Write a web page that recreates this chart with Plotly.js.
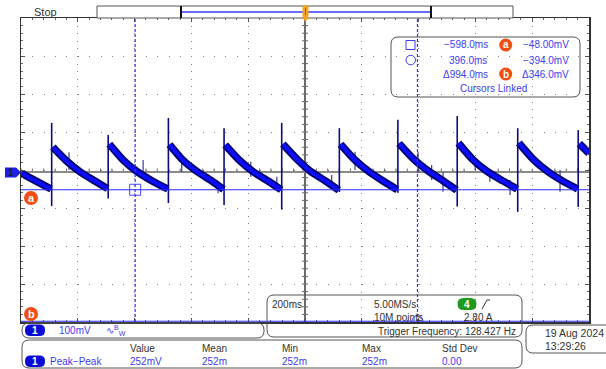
<!DOCTYPE html>
<html><head><meta charset="utf-8">
<script src="https://cdn.plot.ly/plotly-3.0.1.min.js"></script>
<style>html,body{margin:0;padding:0;background:#fff;}#chart{width:606px;height:369px;}</style>
</head><body><div id="chart"></div>
<script>
// ---- data (time in ms, voltage in mV) ----
const rampT = [-1000,-950,-894,null,
  -888,-840,-790,-740,-695,null,
  -689,-640,-590,-535,-483,null,
  -477,-430,-380,-330,-287,null,
  -281,-230,-180,-130,-84,null,
  -78,-25,20,70,119,null,
  125,175,225,275,325,null,
  331,385,435,485,534,null,
  540,590,640,695,747,null,
  753,805,855,905,960,null,
  966,1000];
const rampV = [-4,-24,-46,null,
  64,28,-2,-25,-45,null,
  72,30,-1,-26,-46,null,
  71,30,0,-24,-47,null,
  70,29,-2,-25,-48,null,
  72,30,0,-24,-49,null,
  72,31,0,-25,-48,null,
  74,31,1,-24,-49,null,
  75,32,1,-24,-46,null,
  75,31,0,-24,-46,null,
  73,48];
const edgeT   = [-892,-693,-481,-285,-82,121,327,536,749,962];
const spikeHi = [128,96,141,114,128,114,136,146,114,109];
const spikeLo = [-91,-71,-83,-88,-100,-54,-56,-92,-106,-93];
const glitchT  = [-831,-570,-434,-306,-191,-99,94,176,398,446,486,599,651,722,898];
const glitchHi = [51,30,30,-36,26,-14,-9,52,52,17,-1,26,-1,-22,4];
const glitchLo = [4,-14,-1,-57,-14,-43,-43,4,-4,-22,-53,4,-27,-62,-53];
const cursorT = [-598, 396];
const cursorV = [-48, -394];
const measLabels = ['Value','Mean','Min','Max','Std Dev'];
const measValues = ['252mV','252m','252m','252m','0.00'];

// ---- layout helpers (pixel -> paper) ----
const L=21,R=589,T=18,B=322;
const px = x => (x-L)/(R-L);
const py = y => (B-y)/(B-T);
function rr(x0,y0,x1,y1,r){
  const a=px(x0),b=px(x1),c=py(y0),d=py(y1),rx=r/(R-L),ry=r/(B-T);
  return `M${a+rx},${c} L${b-rx},${c} Q${b},${c} ${b},${c-ry} L${b},${d+ry} Q${b},${d} ${b-rx},${d} L${a+rx},${d} Q${a},${d} ${a},${d+ry} L${a},${c-ry} Q${a},${c} ${a+rx},${c} Z`;
}
function poly(pts){return 'M'+pts.map(p=>px(p[0])+','+py(p[1])).join(' L')+' Z';}
const FONT='Liberation Sans, Arial, sans-serif';
const BLUE='#3c3cf5', DARK='#333333', ORANGE='#f24d12';
const shapes=[], anns=[];
function ann(x,y,text,opt={}){
  anns.push({xref:'paper',yref:'paper',x:px(x),y:py(y),text:text,showarrow:false,
    xanchor:opt.xa||'left',yanchor:'middle',
    font:{family:FONT,size:opt.size||10,color:opt.color||DARK}});
}
function box(x0,y0,x1,y1,r,fill,stroke){
  shapes.push({type:'path',xref:'paper',yref:'paper',path:rr(x0,y0,x1,y1,r),
    fillcolor:fill||'rgba(0,0,0,0)',line:{color:stroke||'#555',width:stroke==='none'?0:1},layer:'above'});
}
function circ(cx,cy,r,fill){
  shapes.push({type:'circle',xref:'paper',yref:'paper',x0:px(cx-r),x1:px(cx+r),y0:py(cy+r),y1:py(cy-r),
    fillcolor:fill,line:{width:0},layer:'above'});
}
function seg(x0,y0,x1,y1,color,w,dash){
  shapes.push({type:'line',xref:'paper',yref:'paper',x0:px(x0),y0:py(y0),x1:px(x1),y1:py(y1),
    line:{color:color,width:w,dash:dash||'solid'},layer:'above'});
}

// crosshair ticks on the centre lines
for(let t=-1000;t<=1000;t+=40){
  shapes.push({type:'line',xref:'x',yref:'paper',x0:t,x1:t,y0:py(172.5),y1:py(168.5),line:{color:'#666',width:1},layer:'below'});
}
for(let v=-396;v<=404;v+=20){
  shapes.push({type:'line',xref:'paper',yref:'y',x0:px(302),x1:px(308),y0:v,y1:v,line:{color:'#666',width:1},layer:'below'});
}
// cursors
cursorT.forEach(t=>shapes.push({type:'line',xref:'x',yref:'paper',x0:t,x1:t,y0:0,y1:1,line:{color:'#3434ff',width:1.2,dash:'3px,2px'},layer:'above'}));
cursorV.forEach(v=>shapes.push({type:'line',xref:'paper',yref:'y',x0:0,x1:1,y0:v,y1:v,line:{color:'#2a2aff',width:1},layer:'above'}));

// top status bar
ann(32,12,'Stop',{size:11,color:DARK});
box(97,6,513,18,0,'#fff','#555');
seg(182,12,430,12,'#3a3aff',1.5);
seg(181,6,181,18,'#111',2); seg(431,6,431,18,'#111',2);
box(302.5,5,308.5,18,3,'#f5a21e','none');
shapes.push({type:'path',xref:'paper',yref:'paper',path:poly([[302,17],[309,17],[305.5,22]]),fillcolor:'#f5a21e',line:{width:0},layer:'above'});
seg(305.5,8,305.5,15,'#a05a00',1);

// channel marker and cursor letter badges
shapes.push({type:'path',xref:'paper',yref:'paper',path:poly([[5,167.5],[16,167.5],[21,172.5],[16,177.5],[5,177.5]]),fillcolor:'#1e1ee6',line:{width:0},layer:'above'});
ann(10.5,172.5,'<b>1</b>',{xa:'center',size:10,color:'#1a1a40'});
circ(31,198,7,ORANGE); ann(31,198,'<b>a</b>',{xa:'center',size:11,color:'#fff'});
circ(31,314,7,ORANGE); ann(31,314,'<b>b</b>',{xa:'center',size:11,color:'#fff'});

// cursor readout box
box(391,37,580,97,7,'rgba(0,0,0,0)','#555');
shapes.push({type:'rect',xref:'paper',yref:'paper',x0:px(406),x1:px(415),y0:py(49.5),y1:py(40.5),line:{color:BLUE,width:1},layer:'above'});
shapes.push({type:'circle',xref:'paper',yref:'paper',x0:px(406),x1:px(415.5),y0:py(64.8),y1:py(55.3),line:{color:BLUE,width:1},layer:'above'});
const fmtT = v => (v<0?'−':'')+Math.abs(v).toFixed(1)+'ms';
const fmtV = v => (v<0?'−':'')+Math.abs(v).toPrecision(4)+'mV';
ann(490,45,fmtT(cursorT[0]),{xa:'right',color:BLUE});
ann(489,60,fmtT(cursorT[1]),{xa:'right',color:BLUE});
ann(490,74,'Δ'+fmtT(cursorT[1]-cursorT[0]),{xa:'right',color:BLUE});
ann(571,45,fmtV(cursorV[0]),{xa:'right',color:BLUE});
ann(571,60,fmtV(cursorV[1]),{xa:'right',color:BLUE});
ann(571,74,'Δ'+fmtV(Math.abs(cursorV[0]-cursorV[1])),{xa:'right',color:BLUE});
circ(505.7,45,6.5,ORANGE); ann(505.7,45,'<b>a</b>',{xa:'center',size:10,color:'#fff'});
circ(505.7,74,6.5,ORANGE); ann(505.7,74,'<b>b</b>',{xa:'center',size:10,color:'#fff'});
ann(493,88,'Cursors Linked',{xa:'center',color:BLUE});

// acquisition info box
box(267,295,522,337,7,'rgba(0,0,0,0)','#555');
ann(270,304,'200ms');
ann(372,304,'5.00MS/s');
box(457.5,298,476.5,310,6,'#1e9b1e','none');
ann(467,304,'<b>4</b>',{xa:'center',size:10,color:'#fff'});
shapes.push({type:'path',xref:'paper',yref:'paper',path:'M'+px(482)+','+py(309)+' L'+px(487)+','+py(300)+' L'+px(490)+','+py(300),line:{color:DARK,width:1},layer:'above'});
ann(372,317,'10M points');
ann(462,317,'2.80 A');
ann(518,331.5,'Trigger Frequency: 128.427 Hz',{xa:'right'});

// channel scale box
box(22,323,264,338,7,'rgba(0,0,0,0)','#555');
box(25,324.5,45,336,5.5,'#0a0ad8','none');
ann(35,330,'<b>1</b>',{xa:'center',size:10,color:'#fff'});
ann(57,330,'100mV',{color:BLUE});
ann(104,330,'∿<sup>B</sup><sub>W</sub>',{color:BLUE,size:10});

// date box
box(526,325,614,353,7,'rgba(0,0,0,0)','#555');
ann(543,332.5,'19 Aug 2024',{size:10.5});
ann(543,346,'13:29:26',{size:10.5});

// measurement box
box(22,340,522,368,7,'rgba(0,0,0,0)','#555');
box(25,355.5,45,367,5.5,'#0a0ad8','none');
ann(35,361,'<b>1</b>',{xa:'center',size:10,color:'#fff'});
ann(48,361,'Peak−Peak',{color:BLUE});
const measX=[128,200,280,360,440];
measLabels.forEach((s,i)=>ann(measX[i],348.5,s));
measValues.forEach((s,i)=>ann(measX[i],361,s,{color:BLUE}));

// ---- traces ----
const ex=[],ey=[];
edgeT.forEach((t,i)=>{ex.push(t,t,null);ey.push(spikeLo[i],spikeHi[i],null);});
const gx=[],gy=[];
glitchT.forEach((t,i)=>{gx.push(t,t,null);gy.push(glitchLo[i],glitchHi[i],null);});

const traces=[
  {x:gx,y:gy,mode:'lines',line:{color:'#3a3a95',width:1.2},connectgaps:false,hoverinfo:'skip'},
  {x:rampT,y:rampV,mode:'lines',line:{color:'#00006e',width:7.5,shape:'spline',smoothing:0.6},connectgaps:false,hoverinfo:'skip'},
  {x:rampT,y:rampV,mode:'lines',line:{color:'#0c0cff',width:4,shape:'spline',smoothing:0.6},connectgaps:false,hoverinfo:'skip'},
  {x:ex,y:ey,mode:'lines',line:{color:'#0a0a85',width:1.6},connectgaps:false,hoverinfo:'skip'},
  {x:cursorT,y:cursorV,mode:'markers',marker:{symbol:['square-open','circle-open'],size:11,color:'#4646ff',line:{width:1}},hoverinfo:'skip'}
];

const layout={
  width:606,height:369,margin:{l:21,r:17,t:18,b:47,pad:0},
  paper_bgcolor:'#fff',plot_bgcolor:'#fff',showlegend:false,
  xaxis:{range:[-1000,1000],tick0:0,dtick:200,showgrid:true,gridcolor:'#808080',gridwidth:1,griddash:'1px,6.6px',
    zeroline:true,zerolinecolor:'#6a6a6a',zerolinewidth:1.5,showline:true,linecolor:'#333',linewidth:1.5,mirror:'allticks',
    ticks:'inside',ticklen:4,tickcolor:'#555',showticklabels:false,fixedrange:true,
    minor:{tick0:0,dtick:40,ticks:'inside',ticklen:2,tickcolor:'#666',showgrid:false}},
  yaxis:{range:[-396,404],tick0:4,dtick:100,showgrid:true,gridcolor:'#808080',gridwidth:1,griddash:'1px,10.36px',
    zeroline:true,zerolinecolor:'#8a8a8a',zerolinewidth:2,showline:true,linecolor:'#333',linewidth:1.5,mirror:'allticks',
    ticks:'inside',ticklen:4,tickcolor:'#555',showticklabels:false,fixedrange:true,
    minor:{tick0:4,dtick:20,ticks:'inside',ticklen:2,tickcolor:'#666',showgrid:false}},
  shapes:shapes,annotations:anns
};
Plotly.newPlot('chart',traces,layout,{staticPlot:true,displayModeBar:false});
</script></body></html>
